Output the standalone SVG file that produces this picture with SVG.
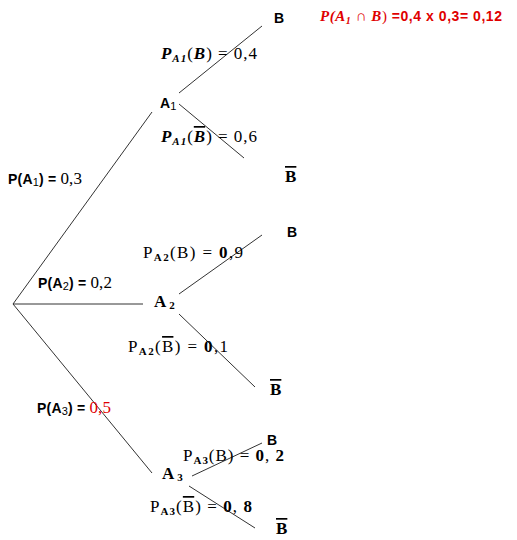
<svg xmlns="http://www.w3.org/2000/svg" width="517" height="540" viewBox="0 0 517 540">
<style>
.ln{stroke:#333;stroke-width:1;fill:none}
.sans{font-family:"Liberation Sans",Arial,sans-serif;font-weight:bold;font-size:14px;fill:#000}
.ser{font-family:"Liberation Serif","Times New Roman",serif;font-size:17px;fill:#000}
.mi{font-style:italic;font-weight:bold}
.b{font-weight:bold}
.sub{font-size:11px}
.ov{text-decoration:overline}
.red{fill:#e00000}
</style>
<rect width="517" height="540" fill="#fff"/>
<g id="connectors">
<line class="ln" x1="13" y1="304" x2="152" y2="112"/>
<line class="ln" x1="13" y1="304" x2="143" y2="304"/>
<line class="ln" x1="13" y1="304" x2="152" y2="473"/>
<line class="ln" x1="179" y1="93" x2="262" y2="26"/>
<line class="ln" x1="179" y1="104" x2="244" y2="158"/>
<line class="ln" x1="179" y1="294" x2="262" y2="235"/>
<line class="ln" x1="179" y1="314" x2="255" y2="387"/>
<line class="ln" x1="192" y1="476" x2="262" y2="443"/>
<line class="ln" x1="189" y1="486" x2="255" y2="528"/>
</g>
<g id="A1"><text class="sans" x="160" y="108">A<tspan class="sub" font-weight="normal" dy="2">1</tspan></text></g>
<g id="A2"><text class="ser b" x="154" y="307">A<tspan class="sub" dx="3" dy="2">2</tspan></text></g>
<g id="A3"><text class="ser b" x="162" y="479">A<tspan class="sub" dx="3" dy="2">3</tspan></text></g>
<g id="B1"><text class="sans" x="274" y="23">B</text></g>
<g id="Bbar1"><text class="ser b" x="285" y="182"><tspan class="ov">B</tspan></text></g>
<g id="B2"><text class="sans" x="287" y="237">B</text></g>
<g id="Bbar2"><text class="ser b" x="270" y="395"><tspan class="ov">B</tspan></text></g>
<g id="B3"><text class="sans" x="267" y="445">B</text></g>
<g id="Bbar3"><text class="ser b" x="276" y="534"><tspan class="ov">B</tspan></text></g>
<g id="labels">
<text class="ser" x="161" y="59" textLength="96" lengthAdjust="spacing"><tspan class="mi">P</tspan><tspan class="mi sub" dy="3">A1</tspan><tspan dy="-3">(</tspan><tspan class="mi">B</tspan>) = 0,4</text>
<text class="ser" x="161" y="142" textLength="96" lengthAdjust="spacing"><tspan class="mi">P</tspan><tspan class="mi sub" dy="3">A1</tspan><tspan dy="-3">(</tspan><tspan class="mi ov">B</tspan>) = 0,6</text>
<text class="sans" x="8" y="184" textLength="74" lengthAdjust="spacing">P(A<tspan class="sub" font-weight="normal" dy="2">1</tspan><tspan dy="-2">) = </tspan><tspan class="ser" font-weight="normal" font-size="16">0,3</tspan></text>
<text class="sans" x="38" y="288" textLength="74" lengthAdjust="spacing">P(A<tspan class="sub" font-weight="normal" dy="2">2</tspan><tspan dy="-2">) = </tspan><tspan class="ser" font-weight="normal" font-size="16">0,2</tspan></text>
<text class="sans" x="37" y="413" textLength="74" lengthAdjust="spacing">P(A<tspan class="sub" font-weight="normal" dy="2">3</tspan><tspan dy="-2">) = </tspan><tspan class="ser red" font-weight="normal" font-size="16">0,5</tspan></text>
<text class="ser" x="143" y="258" textLength="100" lengthAdjust="spacing">P<tspan class="b sub" dy="3">A2</tspan><tspan dy="-3">(B) = </tspan><tspan class="b">0</tspan>,9</text>
<text class="ser" x="128" y="352" textLength="100" lengthAdjust="spacing">P<tspan class="b sub" dy="3">A2</tspan><tspan dy="-3">(</tspan><tspan class="ov">B</tspan>) = <tspan class="b">0</tspan>,1</text>
<text class="ser" x="183" y="461" textLength="101" lengthAdjust="spacing">P<tspan class="b sub" dy="3">A3</tspan><tspan dy="-3">(B) = </tspan><tspan class="b">0</tspan>, <tspan class="b">2</tspan></text>
<text class="ser" x="150" y="512" textLength="102" lengthAdjust="spacing">P<tspan class="b sub" dy="3">A3</tspan><tspan dy="-3">(</tspan><tspan class="ov">B</tspan>) = <tspan class="b">0</tspan>, <tspan class="b">8</tspan></text>
<text x="320" y="21" font-size="14" fill="#e00000" font-family="Liberation Sans, Arial, sans-serif" font-weight="bold" textLength="182" lengthAdjust="spacing"><tspan font-family="Liberation Serif, serif" font-style="italic" font-size="15">P(A</tspan><tspan font-family="Liberation Serif, serif" font-style="italic" font-size="10" dy="3">1</tspan><tspan font-family="Liberation Serif, serif" font-size="15" dy="-3" font-weight="normal"> ∩ </tspan><tspan font-family="Liberation Serif, serif" font-style="italic" font-size="15">B</tspan><tspan font-family="Liberation Serif, serif" font-size="15" font-weight="normal">) </tspan>=0,4 x 0,3= 0,12</text>
</g>
</svg>
